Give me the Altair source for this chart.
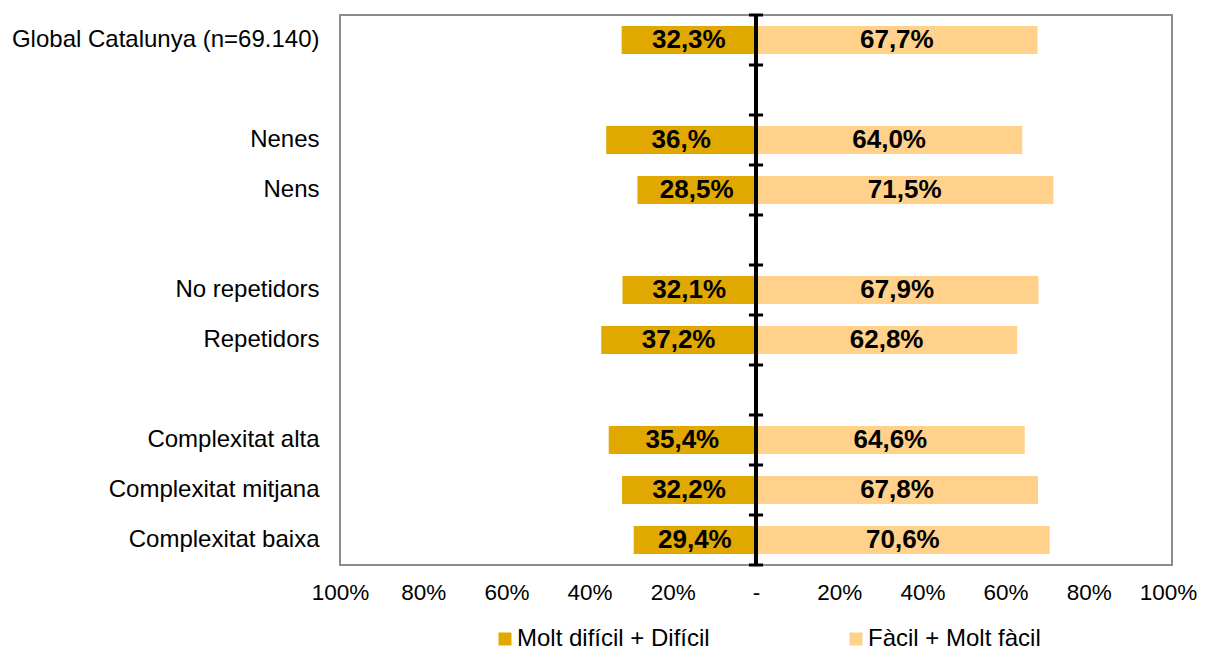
import altair as alt
import pandas as pd

# ---- data ----
categories = ["Global Catalunya (n=69.140)", " ", "Nenes", "Nens", "  ",
              "No repetidors", "Repetidors", "   ",
              "Complexitat alta", "Complexitat mitjana", "Complexitat baixa"]
groups = ["Global Catalunya (n=69.140)", "Nenes", "Nens", "No repetidors",
          "Repetidors", "Complexitat alta", "Complexitat mitjana", "Complexitat baixa"]
difficult = [32.3, 36.0, 28.5, 32.1, 37.2, 35.4, 32.2, 29.4]
difficult_labels = ["32,3%", "36,%", "28,5%", "32,1%", "37,2%", "35,4%", "32,2%", "29,4%"]
easy = [67.7, 64.0, 71.5, 67.9, 62.8, 64.6, 67.8, 70.6]
easy_labels = ["67,7%", "64,0%", "71,5%", "67,9%", "62,8%", "64,6%", "67,8%", "70,6%"]
series = ["Molt difícil + Difícil", "Fàcil + Molt fàcil"]
colors = ["#E0A800", "#FFD18A"]
x_ticks = [-1.0, -0.8, -0.6, -0.4, -0.2, 0, 0.2, 0.4, 0.6, 0.8, 1.0]

rows = []
for g, d, dl, e, el in zip(groups, difficult, difficult_labels, easy, easy_labels):
    rows.append({"cat": g, "series": series[0], "value": -d / 100, "mid": -d / 200, "label": dl})
    rows.append({"cat": g, "series": series[1], "value": e / 100, "mid": e / 200, "label": el})
df = pd.DataFrame(rows)
cat_df = pd.DataFrame({"cat": categories})
last_df = pd.DataFrame({"cat": categories[-1:]})

W, H = 832, 550
FONT = "Liberation Sans"

xscale = alt.Scale(domain=[-1, 1], nice=False, zero=False)
yscale = alt.Scale(domain=categories, paddingInner=0, paddingOuter=0)

xaxis = alt.Axis(title=None, values=x_ticks, grid=False, ticks=False, domain=False,
                 labelFontSize=22.5, labelPadding=16, labelColor="black",
                 labelFlush=False, labelOverlap=False, labelBound=False,
                 labelOffset={"condition": {"test": "datum.value >= 0.99", "value": -4}, "value": 0},
                 labelExpr="datum.value == 0 ? '-' : format(abs(datum.value), '.0%')")
yaxis = alt.Axis(title=None, ticks=False, domain=False, labelFontSize=24,
                 labelPadding=21, labelLimit=400, labelColor="black")

base = alt.Chart(df)

bars = base.mark_bar(height=alt.RelativeBandSize(band=0.56)).encode(
    y=alt.Y("cat:N", scale=yscale, axis=yaxis, sort=categories),
    x=alt.X("value:Q", scale=xscale, axis=xaxis, stack=None),
    color=alt.Color("series:N", scale=alt.Scale(domain=series, range=colors),
                    legend=alt.Legend(title=None, orient="none", direction="horizontal",
                                      legendX=153, legendY=612, symbolType="square",
                                      symbolSize=169, symbolStrokeWidth=0,
                                      labelFontSize=24, labelOffset=0, columnPadding=134,
                                      labelColor="black", labelLimit=400)),
)

texts = base.mark_text(fontWeight="bold", fontSize=26, color="black", baseline="middle").encode(
    y=alt.Y("cat:N", scale=yscale, sort=categories),
    x=alt.X("mid:Q", scale=xscale),
    text="label:N",
)

center = alt.Chart(cat_df).mark_rule(color="black", strokeWidth=3).encode(
    x=alt.datum(0), y=alt.value(0), y2=alt.value(H)
)

ticks_top = alt.Chart(cat_df).mark_rule(color="black", strokeWidth=3).encode(
    y=alt.Y("cat:N", scale=yscale, bandPosition=0, sort=categories),
    x=alt.datum(-0.017), x2=alt.datum(0.017),
)
ticks_bottom = alt.Chart(last_df).mark_rule(color="black", strokeWidth=3).encode(
    y=alt.Y("cat:N", scale=yscale, bandPosition=1, sort=categories),
    x=alt.datum(-0.017), x2=alt.datum(0.017),
)

chart = alt.layer(bars, texts, center, ticks_top, ticks_bottom).properties(
    width=W, height=H,
    autosize="none",
    padding={"left": 332, "top": 7, "right": 26, "bottom": 89},
).configure(font=FONT).configure_view(stroke="#8C8C8C", strokeWidth=2)

chart.save("out.html", embed_options={"renderer": "svg", "actions": False})
